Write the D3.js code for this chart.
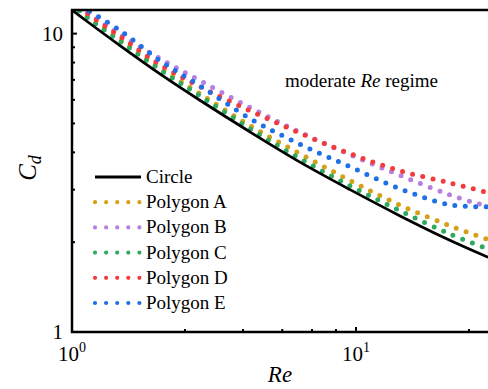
<!DOCTYPE html>
<html>
<head>
<meta charset="utf-8">
<script src="https://cdn.jsdelivr.net/npm/d3@7"></script>
<style>
  body { margin: 0; background: #fff; }
  svg { display: block; }
  svg text { font-family: "Liberation Serif", "DejaVu Serif", "Times New Roman", Times, serif; }
</style>
</head>
<body>
<div id="chart"></div>
<script>
// Re values
const reVals = [1, 1.11, 1.48, 2.04, 2.82, 4.24, 6.35, 9.53, 14.3, 21.4, 29.2];

// drag coefficient for each shape
const cdCircle = [12.0, 11.13, 9.1, 7.33, 5.98, 4.68, 3.71, 3.0, 2.45, 2.03, 1.78];
const cdPolyA = [12.7, 11.58, 9.55, 7.69, 6.29, 4.91, 3.96, 3.22, 2.66, 2.27, 2.04];
const cdPolyB = [13.0, 11.94, 9.92, 8.25, 6.96, 5.65, 4.67, 3.93, 3.35, 2.88, 2.63];
const cdPolyC = [12.6, 11.49, 9.4, 7.57, 6.19, 4.8, 3.81, 3.09, 2.55, 2.13, 1.9];
const cdPolyD = [12.9, 11.85, 9.77, 7.87, 6.64, 5.51, 4.64, 3.96, 3.47, 3.16, 2.93];
const cdPolyE = [12.9, 12.13, 10.23, 8.12, 6.69, 5.19, 4.26, 3.58, 3.02, 2.67, 2.63];

const seriesNames = ["Circle", "Polygon A", "Polygon B", "Polygon C", "Polygon D", "Polygon E"];

// axis ticks
const xMajor = [1, 10];
const xMinor = [2.5, 4, 5.5, 7, 8.5, 25];
const yMajor = [1, 10];
const yMinor = [2, 3, 4, 5, 6, 7, 8, 9];

const colors = ["#000000", "#d4a017", "#b67fe0", "#2eaa60", "#f23b3c", "#1f6fe6"];

const width = 488, height = 389;
const plotLeft = 72, plotTop = 10, plotBottom = 332;

const x = d3.scaleLog().domain([1, 30]).range([plotLeft, plotLeft + 284 * Math.log10(30)]);
const y = d3.scaleLog().domain([1, 12]).range([plotBottom, plotTop]);
const plotRight = x.range()[1];

const svg = d3.select("#chart").append("svg")
  .attr("width", width)
  .attr("height", height);

svg.append("clipPath").attr("id", "plot")
  .append("rect")
  .attr("x", plotLeft).attr("y", plotTop)
  .attr("width", plotRight - plotLeft).attr("height", plotBottom - plotTop);

let allSeries = [cdCircle, cdPolyA, cdPolyB, cdPolyC, cdPolyD, cdPolyE].map((vals, i) => ({
  name: seriesNames[i],
  color: colors[i],
  points: reVals.map((re, j) => [re, vals[j]]),
}));

const line = d3.line()
  .x((d) => x(d[0]))
  .y((d) => y(d[1]))
  .curve(d3.curveCatmullRom.alpha(0.5));

let g = {
  curves: svg.append("g").attr("clip-path", "url(#plot)"),
  axes: svg.append("g"),
  legend: svg.append("g"),
};

// dotted polygons first, circle on top
allSeries.slice(1).concat(allSeries[0]).forEach((s) => {
  let p = g.curves.append("path")
    .attr("d", line(s.points))
    .attr("fill", "none")
    .attr("stroke", s.color);
  if (s.name === "Circle") {
    p.attr("stroke-width", 2.8);
  } else {
    p.attr("stroke-width", 5)
      .attr("stroke-linecap", "round")
      .attr("stroke-dasharray", "0 10.4");
  }
});

// frame
g.axes.append("path")
  .attr("d", `M${plotRight},${plotTop}H${plotLeft}V${plotBottom}H${plotRight}`)
  .attr("fill", "none")
  .attr("stroke", "#000")
  .attr("stroke-width", 2.5);

// ticks point inwards
g.axes.selectAll(".xmaj").data(xMajor).enter().append("line")
  .attr("x1", (d) => x(d)).attr("x2", (d) => x(d))
  .attr("y1", plotBottom).attr("y2", plotBottom - 5)
  .attr("stroke", "#000").attr("stroke-width", 2);
g.axes.selectAll(".xmin").data(xMinor).enter().append("line")
  .attr("x1", (d) => x(d)).attr("x2", (d) => x(d))
  .attr("y1", plotBottom).attr("y2", plotBottom - 3)
  .attr("stroke", "#000").attr("stroke-width", 2);
g.axes.selectAll(".ymaj").data(yMajor).enter().append("line")
  .attr("x1", plotLeft).attr("x2", plotLeft + 5)
  .attr("y1", (d) => y(d)).attr("y2", (d) => y(d))
  .attr("stroke", "#000").attr("stroke-width", 2);
g.axes.selectAll(".ymin").data(yMinor).enter().append("line")
  .attr("x1", plotLeft).attr("x2", plotLeft + 3)
  .attr("y1", (d) => y(d)).attr("y2", (d) => y(d))
  .attr("stroke", "#000").attr("stroke-width", 2);

// tick labels
g.axes.selectAll(".ylab").data(yMajor).enter().append("text")
  .attr("x", plotLeft - 9)
  .attr("y", (d) => y(d) + 7)
  .attr("text-anchor", "end")
  .attr("font-size", 21)
  .text((d) => d);

let xl = g.axes.selectAll(".xlab").data(xMajor).enter().append("text")
  .attr("x", (d) => x(d))
  .attr("y", 361)
  .attr("text-anchor", "middle")
  .attr("font-size", 21);
xl.append("tspan").text("10");
xl.append("tspan")
  .attr("font-size", 14)
  .attr("dy", -9)
  .text((d) => Math.round(Math.log10(d)));

// axis titles
svg.append("text")
  .attr("x", 280).attr("y", 382)
  .attr("text-anchor", "middle")
  .attr("font-size", 23)
  .attr("font-style", "italic")
  .text("Re");

let yt = svg.append("text")
  .attr("transform", "translate(36,168) rotate(-90)")
  .attr("text-anchor", "middle")
  .attr("font-size", 25)
  .attr("font-style", "italic");
yt.append("tspan").text("C");
yt.append("tspan").attr("font-size", 18).attr("dy", 5).text("d");

// annotation
let note = svg.append("text")
  .attr("x", 285).attr("y", 87)
  .attr("font-size", 19);
note.append("tspan").text("moderate ");
note.append("tspan").attr("font-style", "italic").text("Re");
note.append("tspan").text(" regime");

// legend
let rows = g.legend.selectAll("g").data(allSeries).enter().append("g")
  .attr("transform", (d, i) => `translate(0,${177 + i * 25.2})`);
rows.append("line")
  .attr("x1", 95).attr("x2", (d) => (d.name === "Circle" ? 141 : 139.5))
  .attr("y1", 0).attr("y2", 0)
  .attr("stroke", (d) => d.color)
  .attr("stroke-width", (d) => (d.name === "Circle" ? 2.8 : 4.2))
  .attr("stroke-linecap", (d) => (d.name === "Circle" ? "butt" : "round"))
  .attr("stroke-dasharray", (d) => (d.name === "Circle" ? null : "0 11.1"));
rows.append("text")
  .attr("x", 146).attr("y", 6)
  .attr("font-size", 19)
  .text((d) => d.name);
</script>
</body>
</html>
